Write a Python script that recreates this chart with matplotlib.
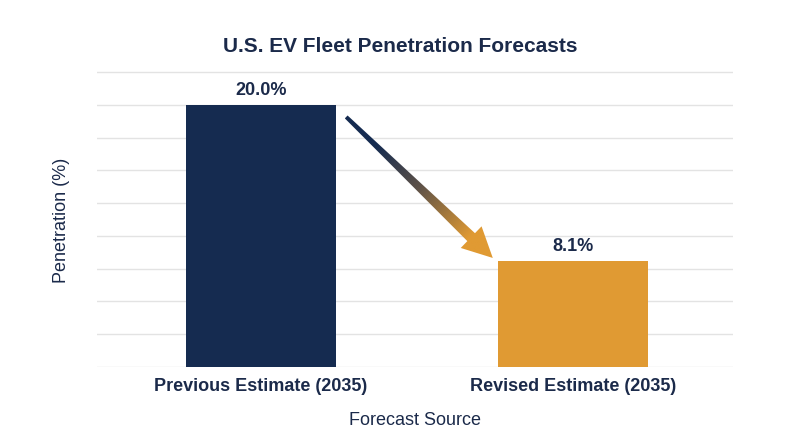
import numpy as np
import matplotlib.pyplot as plt
from matplotlib.patches import Polygon
from matplotlib.colors import LinearSegmentedColormap

plt.rcParams['font.family'] = ['Liberation Sans', 'DejaVu Sans']

# ---------- data ----------
categories = ["Previous Estimate (2035)", "Revised Estimate (2035)"]
values = [20.0, 8.1]
value_labels = ["20.0%", "8.1%"]

NAVY = "#152b50"
ORANGE = "#e09a33"
TEXT = "#1b2a4a"
bar_colors = [NAVY, ORANGE]

# ---------- figure ----------
fig = plt.figure(figsize=(8, 4.47), dpi=100)
ax = fig.add_axes([0.121, 0.179, 0.795, 0.689])

x = np.arange(len(categories))
w = 0.48
ax.bar(x, values, width=w, color=bar_colors, zorder=3)

ax.set_xlim(-0.525, 1.51)
ax.set_ylim(0, 23.5)
ax.set_yticks(np.arange(0, 23, 2.5))
ax.yaxis.grid(True, color="#e3e3e3", linewidth=1.0, zorder=0)
ax.tick_params(axis="y", length=0, labelleft=False)
ax.tick_params(axis="x", length=0, pad=8)
for s in ax.spines.values():
    s.set_visible(False)

ax.set_xticks(x)
ax.set_xticklabels(categories, fontsize=13, fontweight="bold", color=TEXT)

for xi, v, lab in zip(x, values, value_labels):
    ax.text(xi, v + 0.45, lab, ha="center", va="bottom", fontsize=13,
            fontweight="bold", color=TEXT)

ax.set_ylabel("Penetration (%)", fontsize=13, color=TEXT, va="center")
ax.yaxis.set_label_coords(-0.055, 0.475)
ax.set_xlabel("Forecast Source", fontsize=13, color=TEXT, labelpad=12)
fig.text(0.5, 0.897, "U.S. EV Fleet Penetration Forecasts", ha="center",
         va="center", fontsize=15, fontweight="bold", color=TEXT)

# ---------- gradient arrow between bars ----------
start = (x[0] + w / 2 + 0.033, values[0] - 0.92)
end = (x[1] - w / 2 - 0.018, values[1] + 0.22)
fig.canvas.draw()
to_disp = ax.transData
p0 = np.array(to_disp.transform(start))
p1 = np.array(to_disp.transform(end))
d = p1 - p0
L = np.hypot(*d)
u = d / L
n = np.array([-u[1], u[0]])
head_len, head_w = 30.0, 15.0
w0, w1 = 2.0, 5.5
hb = p1 - u * head_len
pts = [p0 + n * w0, hb + n * w1, hb + n * head_w, p1,
       hb - n * head_w, hb - n * w1, p0 - n * w0]
pts_data = ax.transData.inverted().transform(np.array(pts))
poly = Polygon(pts_data, closed=True, facecolor="none", edgecolor="none", zorder=4)
ax.add_patch(poly)

xs, ys = pts_data[:, 0], pts_data[:, 1]
x0, x1, y0, y1 = xs.min(), xs.max(), ys.min(), ys.max()
gx = np.linspace(x0, x1, 200)
gy = np.linspace(y0, y1, 200)
GX, GY = np.meshgrid(gx, gy)
disp = ax.transData.transform(np.column_stack([GX.ravel(), GY.ravel()]))
t = ((disp - p0) @ u) / L
t = np.clip(t, 0, 1).reshape(GX.shape)
cmap = LinearSegmentedColormap.from_list("arr", [(0, NAVY), (0.2, NAVY), (0.5, "#5e5248"), (0.85, ORANGE), (1, ORANGE)])
im = ax.imshow(t, extent=[x0, x1, y0, y1], origin="lower", cmap=cmap,
               aspect="auto", zorder=4, interpolation="bilinear")
im.set_clip_path(poly)
ax.set_xlim(-0.525, 1.51)
ax.set_ylim(0, 23.5)

fig.savefig("out.png", dpi=100, facecolor="white")
